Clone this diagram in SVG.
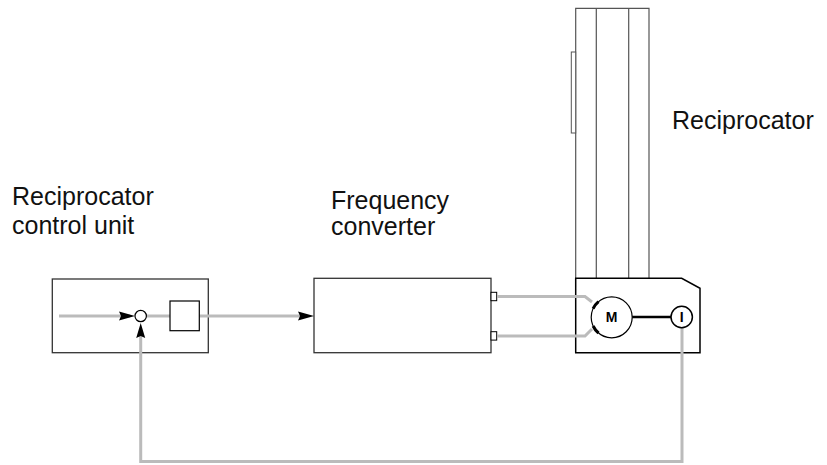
<svg xmlns="http://www.w3.org/2000/svg" width="827" height="465" viewBox="0 0 827 465">
<style>
.lbl{font-family:"Liberation Sans",Arial,sans-serif;font-size:25px;fill:#111}
.box{fill:#fff;stroke:#333;stroke-width:1.3}
.frame{fill:none;stroke:#555;stroke-width:1.2}
.wire{fill:none;stroke:#bbb;stroke-width:3}
.arr{fill:#000}
</style>
<rect width="827" height="465" fill="#fff"/>
<g id="control-unit">
  <rect class="box" x="52.3" y="279" width="156" height="73.7"/>
  <text class="lbl" x="12" y="205">Reciprocator</text>
  <text class="lbl" x="12" y="234">control unit</text>
</g>
<g id="frequency-converter">
  <rect class="box" x="314" y="278.3" width="177" height="74.4"/>
  <rect x="491" y="292.3" width="5.7" height="8.4" fill="#fff" stroke="#000" stroke-width="1"/>
  <rect x="491" y="331.7" width="5.7" height="8.4" fill="#fff" stroke="#000" stroke-width="1"/>
  <text class="lbl" x="331" y="209">Frequency</text>
  <text class="lbl" x="331" y="235">converter</text>
</g>
<g id="reciprocator">
  <path class="frame" d="M575.7,278.3 V8.3 H649 V278.3 M596.3,8.3 V278.3 M628.7,8.3 V278.3"/>
  <rect x="571.3" y="52" width="4.4" height="81" fill="#fff" stroke="#555" stroke-width="1"/>
  <path d="M575.7,278.3 H681.7 L700,288.3 V352.7 H575.7 Z" fill="#fff" stroke="#000" stroke-width="1.5"/>
  <text class="lbl" x="672" y="129">Reciprocator</text>
</g>
<g id="connectors">
  <path class="wire" d="M59,316 H130"/>
  <path class="wire" d="M146.4,316 H170"/>
  <path class="wire" d="M199.3,316 H304"/>
  <path class="wire" d="M682,327.7 V461.5 H140.7 V334"/>
  <path class="wire" d="M497,296.5 H585 L592,302"/>
  <path class="wire" d="M497,336 H585 L592,329"/>
  <path class="arr" d="M135,316 L119,311.5 L121,316 L119,320.5 Z"/>
  <path class="arr" d="M314,316 L298,311.5 L300,316 L298,320.5 Z"/>
  <path class="arr" d="M140.7,323 L136.2,338 L140.7,336 L145.2,338 Z"/>
</g>
<g id="summing-junction">
  <circle cx="140.7" cy="316" r="5.7" fill="#fff" stroke="#000" stroke-width="1.2"/>
</g>
<g id="controller">
  <rect x="170" y="301" width="29.3" height="29.7" fill="#fff" stroke="#000" stroke-width="1.2"/>
</g>
<g id="motor">
  <line x1="632" y1="317" x2="671" y2="317" stroke="#000" stroke-width="2.5"/>
  <circle cx="611.7" cy="317.3" r="20.5" fill="#fff" stroke="#000" stroke-width="1.2"/>
  <path d="M593.1,308.6 A20.5,20.5 0 0 1 598.5,301.6" fill="none" stroke="#000" stroke-width="3"/>
  <path d="M593.1,326 A20.5,20.5 0 0 0 598.5,333" fill="none" stroke="#000" stroke-width="3"/>
  <text x="611.7" y="322.3" text-anchor="middle" font-family="Liberation Sans,Arial,sans-serif" font-size="14" font-weight="bold">M</text>
</g>
<g id="encoder">
  <circle cx="681.7" cy="317" r="10.7" fill="#fff" stroke="#000" stroke-width="1.5"/>
  <text x="681.7" y="322" text-anchor="middle" font-family="Liberation Sans,Arial,sans-serif" font-size="14" font-weight="bold">I</text>
</g>
</svg>
